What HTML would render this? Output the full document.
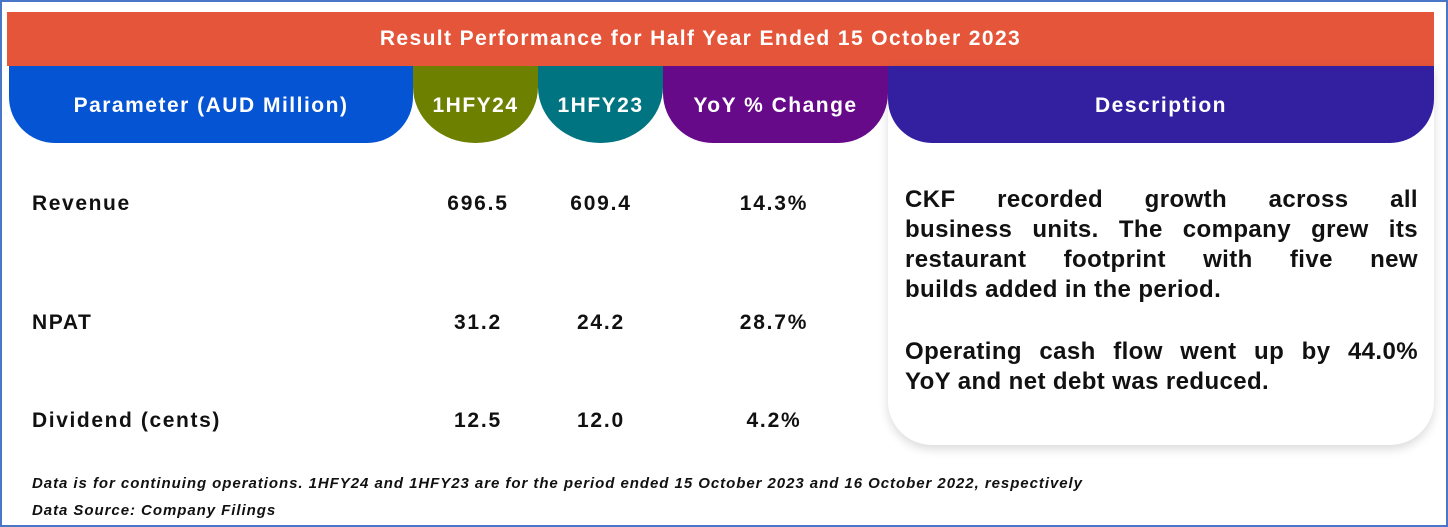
<!DOCTYPE html>
<html><head><meta charset="utf-8"><style>
*{margin:0;padding:0;box-sizing:border-box}
body{width:1448px;height:527px;background:#fff;position:relative;overflow:hidden;font-family:"Liberation Sans",sans-serif;font-weight:bold}
.a{position:absolute}
.frame{left:0;top:0;width:1448px;height:527px;border:2px solid #4a76c8}
.title{left:7px;top:12px;width:1427px;height:54px;background:#e5553a;color:#fff;font-size:21px;letter-spacing:1.4px;text-align:center;line-height:54px;padding-right:40px}
.h{top:66px;height:77px;color:#fff;font-size:21px;letter-spacing:1.5px;display:flex;align-items:center;justify-content:center;padding-top:2px}
.card{left:888px;top:66px;width:546px;height:379px;background:#fff;border-radius:0 0 44px 44px;box-shadow:0 4px 10px rgba(0,0,0,0.15)}
.lbl{left:32px;font-size:21px;letter-spacing:1.6px;color:#111}
.v{font-size:21px;letter-spacing:1.8px;color:#111;width:140px;text-align:center;margin-left:-70px}
.desc{left:905px;top:185px;width:513px;font-size:24px;line-height:30px;color:#111;letter-spacing:0.4px}
.desc div{text-align:justify;text-align-last:justify;white-space:nowrap;height:30px}
.desc div.l{text-align-last:left}
.foot{left:32px;font-size:15px;letter-spacing:0.95px;font-style:italic;color:#111}
</style></head><body>
<div class="a frame"></div>
<div class="a title">Result Performance for Half Year Ended 15 October 2023</div>
<div class="a card"></div>
<div class="a h" style="left:9px;width:404px;background:#0454d4;border-radius:0 0 46px 46px">Parameter (AUD Million)</div>
<div class="a h" style="left:413px;width:125px;background:#6e8000;border-radius:0 0 62px 62px/0 0 56px 56px">1HFY24</div>
<div class="a h" style="left:538px;width:125px;background:#007480;border-radius:0 0 62px 62px/0 0 56px 56px">1HFY23</div>
<div class="a h" style="left:663px;width:225px;background:#660a8a;border-radius:0 0 50px 50px">YoY % Change</div>
<div class="a h" style="left:888px;width:546px;background:#3220a0;border-radius:0 0 44px 44px">Description</div>

<div class="a lbl" style="top:192px">Revenue</div>
<div class="a v" style="left:478px;top:192px">696.5</div>
<div class="a v" style="left:601px;top:192px">609.4</div>
<div class="a v" style="left:774px;top:192px">14.3%</div>

<div class="a lbl" style="top:311px">NPAT</div>
<div class="a v" style="left:478px;top:311px">31.2</div>
<div class="a v" style="left:601px;top:311px">24.2</div>
<div class="a v" style="left:774px;top:311px">28.7%</div>

<div class="a lbl" style="top:409px">Dividend (cents)</div>
<div class="a v" style="left:478px;top:409px">12.5</div>
<div class="a v" style="left:601px;top:409px">12.0</div>
<div class="a v" style="left:774px;top:409px">4.2%</div>

<div class="a desc">
<div>CKF recorded growth across all</div>
<div>business units. The company grew its</div>
<div>restaurant footprint with five new</div>
<div class="l">builds added in the period.</div>
<div style="margin-top:32px">Operating cash flow went up by 44.0%</div>
<div class="l">YoY and net debt was reduced.</div>
</div>

<div class="a foot" style="top:475px">Data is for continuing operations. 1HFY24 and 1HFY23 are for the period ended 15 October 2023 and 16 October 2022, respectively</div>
<div class="a foot" style="top:502px">Data Source: Company Filings</div>
</body></html>
